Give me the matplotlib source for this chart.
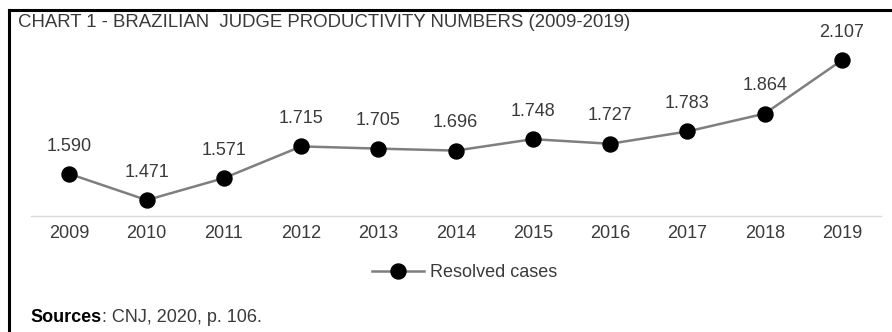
import matplotlib
matplotlib.use("Agg")
import matplotlib.pyplot as plt
from matplotlib.lines import Line2D

years = ["2009", "2010", "2011", "2012", "2013", "2014", "2015", "2016", "2017", "2018", "2019"]
resolved = [1.590, 1.471, 1.571, 1.715, 1.705, 1.696, 1.748, 1.727, 1.783, 1.864, 2.107]
labels = ["1.590", "1.471", "1.571", "1.715", "1.705", "1.696", "1.748", "1.727", "1.783", "1.864", "2.107"]

plt.rcParams['font.family'] = ['Liberation Sans', 'DejaVu Sans']
txt = "#3a3a3a"

fig = plt.figure(figsize=(8.92, 3.32), dpi=100)
ax = fig.add_axes([0.0346, 0.3503, 0.9526, 0.530])

x = list(range(len(years)))
ax.plot(x, resolved, color="#7f7f7f", lw=1.8, marker="o", ms=10.8,
        mfc="black", mec="black", label="Resolved cases")
for xi, yi, t in zip(x, resolved, labels):
    ax.annotate(t, (xi, yi), xytext=(0, 20), textcoords="offset points",
                ha="center", va="center", fontsize=13, color=txt)

ax.set_xlim(-0.5, 10.5)
ax.set_ylim(1.4, 2.2)
ax.set_xticks(x)
ax.set_xticklabels(years, fontsize=13, color=txt)
ax.set_yticks([])
for s in ["top", "right", "left"]:
    ax.spines[s].set_visible(False)
ax.spines["bottom"].set_color("#d9d9d9")
ax.spines["bottom"].set_linewidth(1)
ax.tick_params(axis="x", length=0, pad=7)

fig.legend(handles=[Line2D([], [], color="#7f7f7f", lw=1.8, marker="o", ms=10.8,
                           mfc="black", mec="black")],
           labels=["Resolved cases"], loc="center", bbox_to_anchor=(0.521, 0.178),
           frameon=False, fontsize=13, handlelength=2.9, handletextpad=0.35,
           labelcolor=txt)

fig.text(0.0202, 0.931, "CHART 1 - BRAZILIAN  JUDGE PRODUCTIVITY NUMBERS (2009-2019)",
         fontsize=13.4, color=txt, va="center")
src = fig.text(0.0345, 0.045, "Sources", fontsize=13, fontweight="bold",
               color="black", va="center")
ax.annotate(": CNJ, 2020, p. 106.", xy=(1, 0.5), xycoords=src,
            fontsize=13, color=txt, va="center", ha="left")

# frame around chart (left and top edges visible)
fig.add_artist(Line2D([0.0106, 0.0106], [0, 0.970], color="black", lw=2.2,
                      transform=fig.transFigure))
fig.add_artist(Line2D([0.0106, 1], [0.970, 0.970], color="black", lw=2.2,
                      transform=fig.transFigure))

fig.savefig("out.png", dpi=100)
